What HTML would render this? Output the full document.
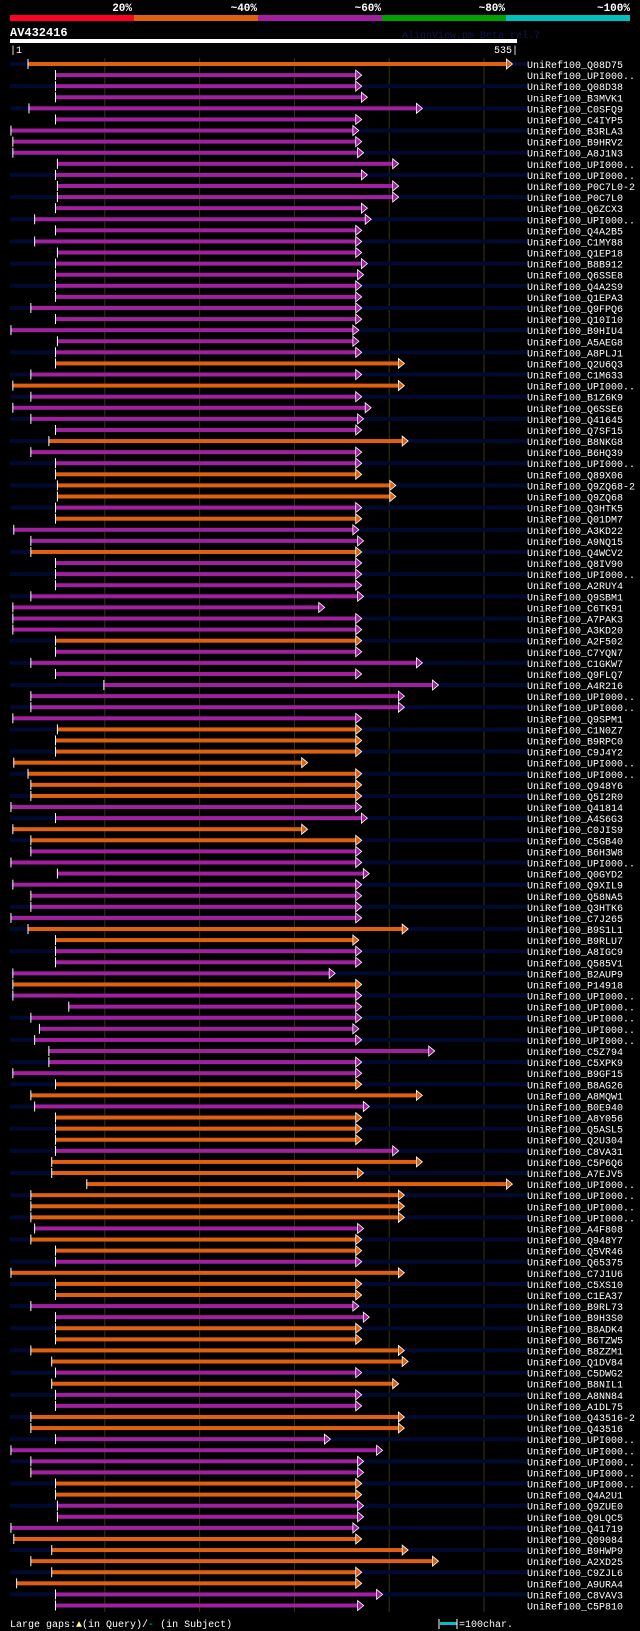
<!DOCTYPE html>
<html><head><meta charset="utf-8">
<style>
html,body{margin:0;padding:0;background:#000;}
svg{display:block;font-family:"Liberation Mono",monospace;}
</style></head>
<body>
<svg id="chart" width="640" height="1631" viewBox="0 0 640 1631">
  <g>
    <rect x="10" y="15" width="124" height="6" fill="#ff0022"/>
    <rect x="134" y="15" width="124" height="6" fill="#e06010"/>
    <rect x="258" y="15" width="124" height="6" fill="#a020a0"/>
    <rect x="382" y="15" width="124" height="6" fill="#00a000"/>
    <rect x="506" y="15" width="124" height="6" fill="#00c0c0"/>
    <g fill="#fff" font-size="11" font-weight="bold" text-anchor="end">
      <text x="132" y="11">20%</text>
      <text x="257" y="11">~40%</text>
      <text x="381" y="11">~60%</text>
      <text x="505" y="11">~80%</text>
      <text x="630" y="11">~100%</text>
    </g>
  </g>
  <text x="10" y="36" fill="#fff" font-size="12" font-weight="bold">AV432416</text>
  <text x="402" y="38" fill="#101850" font-size="10">AlignView.pm Beta rel.7</text>
  <rect x="10" y="39" width="507" height="4" fill="#fff"/>
  <text x="10" y="53" fill="#fff" font-size="10">|1</text>
  <text x="518" y="53" fill="#fff" font-size="10" text-anchor="end">535|</text>
  <g id="grid"></g>
  <g id="rows"></g>
  <g>
    <text x="10" y="1627" fill="#fff" font-size="10">Large gaps:<tspan fill="#ffff80">▲</tspan>(in Query)/<tspan fill="#00c8c8">-</tspan> (in Subject)</text>
    <line x1="439" y1="1619" x2="439" y2="1629" stroke="#fff" stroke-width="1"/>
    <rect x="440" y="1622" width="17" height="3" fill="#00c0c0"/>
    <line x1="457" y1="1619" x2="457" y2="1629" stroke="#fff" stroke-width="1"/>
    <text x="459" y="1627" fill="#fff" font-size="10">=100char.</text>
  </g>
</svg>
<script>
const names = ["Q08D75","UPI000..","Q08D38","B3MVK1","C0SFQ9","C4IYP5","B3RLA3","B9HRV2","A8J1N3","UPI000..","UPI000..","P0C7L0-2","P0C7L0","Q6ZCX3","UPI000..","Q4A2B5","C1MY88","Q1EP18","B8B912","Q6SSE8","Q4A2S9","Q1EPA3","Q9FPQ6","Q10I10","B9HIU4","A5AEG8","A8PLJ1","Q2U6Q3","C1M633","UPI000..","B1Z6K9","Q6SSE6","Q41645","Q7SF15","B8NKG8","B6HQ39","UPI000..","Q89X06","Q9ZQ68-2","Q9ZQ68","Q3HTK5","Q01DM7","A3KD22","A9NQ15","Q4WCV2","Q8IV90","UPI000..","A2RUY4","Q9SBM1","C6TK91","A7PAK3","A3KD20","A2F502","C7YQN7","C1GKW7","Q9FLQ7","A4R216","UPI000..","UPI000..","Q9SPM1","C1N0Z7","B9RPC0","C9J4Y2","UPI000..","UPI000..","Q948Y6","Q5I2R0","Q41814","A4S6G3","C0JIS9","C5GB40","B6H3W8","UPI000..","Q0GYD2","Q9XIL9","Q58NA5","Q3HTK6","C7J265","B9S1L1","B9RLU7","A8IGC9","Q585V1","B2AUP9","P14918","UPI000..","UPI000..","UPI000..","UPI000..","UPI000..","C5Z794","C5XPK9","B9GF15","B8AG26","A8MQW1","B0E940","A8Y056","Q5ASL5","Q2U304","C8VA31","C5P6Q6","A7EJV5","UPI000..","UPI000..","UPI000..","UPI000..","A4F808","Q948Y7","Q5VR46","Q65375","C7J1U6","C5XS10","C1EA37","B9RL73","B9H3S0","B8ADK4","B6TZW5","B8ZZM1","Q1DV84","C5DWG2","B8NIL1","A8NN84","A1DL75","Q43516-2","Q43516","UPI000..","UPI000..","UPI000..","UPI000..","UPI000..","Q4A2U1","Q9ZUE0","Q9LQC5","Q41719","Q09084","B9HWP9","A2XD25","C9ZJL6","A9URA4","C8VAV3","C5P810"];
const identity = "OMMMMMMMMM" + "MMMMMMMMMM" + "MMMMMMMOMO" + "MMMMOMMOOO" + "MOMMOMMMMM" + "MMOMMMMMMM" + "OOOOOOOMMO" + "OMMMMMMMOO" + "MMMOMMMMMM" + "MMOOMOOOMO" + "OOOOOMOOMO" + "OOMMOOOOMO" + "MMOOMMMMOO" + "MMMOOOOOMM";
const hitStart = [20,49,49,49,21,49,2,4,4,51,49,51,51,49,27,49,27,51,49,49,49,49,23,49,2,51,49,49,23,4,23,4,23,49,42,23,49,49,51,51,49,49,5,23,23,49,49,49,23,4,4,4,49,49,23,49,100,23,23,4,51,49,49,5,20,23,23,2,49,4,23,23,2,51,4,23,23,2,20,49,49,49,4,4,4,63,23,32,27,42,42,4,49,23,27,49,49,49,49,45,45,82,23,23,23,27,23,49,49,2,49,49,23,49,49,49,23,45,49,45,49,49,23,23,49,2,23,23,49,49,51,51,2,5,45,23,45,8,49,49];
const hitEnd = [531,372,372,378,436,372,369,372,374,411,378,411,411,378,382,372,372,372,378,374,372,372,372,372,369,369,372,417,372,417,372,382,374,372,421,372,372,372,408,408,372,372,369,374,372,372,372,372,374,333,372,372,372,372,436,372,453,417,417,372,372,372,372,315,372,372,372,372,378,315,372,372,372,380,372,372,372,372,421,369,372,372,344,372,372,372,372,369,372,449,372,372,372,436,380,372,372,372,411,436,374,531,417,417,417,374,372,372,372,417,372,372,369,380,372,372,417,421,372,411,372,372,417,417,339,394,374,374,372,372,374,374,369,372,421,453,372,372,394,374];

const NS = "http://www.w3.org/2000/svg";
const rowsG = document.getElementById("rows");
const gridG = document.getElementById("grid");
const x0 = 10, pxPerRes = 0.948, rowY0 = 64, rowStep = 11.09;
function xScale(r){ return x0 + (r - 1) * pxPerRes; }
function yScale(i){ return rowY0 + i * rowStep; }
function mk(tag, attrs, parent){ const e = document.createElementNS(NS, tag); for (const k in attrs) e.setAttribute(k, attrs[k]); parent.appendChild(e); return e; }
const colors = {O:"#e06010", M:"#a020a0"};

for (let i = 0; i < names.length; i++) {
  if (i % 2 === 0) {
    const band = mk("rect", {x:10, y:yScale(i)-2, width:517, height:4, fill:"#000a30"}, rowsG);
    
    
  }
}
[100,200,300,400,500].forEach(r => {
  const gl = mk("line", {x1:xScale(r+1), x2:xScale(r+1), y1:58, y2:1612, stroke:"#3a3410", "stroke-width":1}, gridG);
  
  
});
for (let i = 0; i < names.length; i++) {
  const y = yScale(i);
  const c = colors[identity[i]] || colors.M;
  const xs = xScale(hitStart[i]), xe = xScale(hitEnd[i]);
  const g = mk("g", {}, rowsG);
  
  
  const bar = mk("rect", {x:xs, y:y-2, width:Math.max(0, xe - xs - 5), height:4, fill:c}, g);
  
  
  const tick = mk("line", {x1:xs, x2:xs, y1:y-5, y2:y+5, stroke:"#fff", "stroke-width":1}, g);
  
  
  const arr = mk("polygon", {points:`${xe-6},${y-5} ${xe},${y} ${xe-6},${y+5}`, fill:c, stroke:"#fff", "stroke-width":0.8}, g);
  
  
  const t = mk("text", {x:527, y:y+4, fill:"#fff", "font-size":10}, g);
  t.textContent = "UniRef100_" + names[i];
  
  
}
</script>
</body></html>
